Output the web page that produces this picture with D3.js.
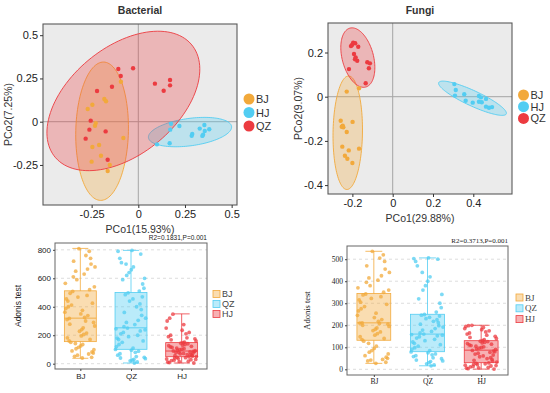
<!DOCTYPE html>
<html>
<head>
<meta charset="utf-8">
<script src="https://cdn.jsdelivr.net/npm/d3@7"></script>
<style>
  body { margin: 0; background: #fff; }
  svg { display: block; }
</style>
</head>
<body>
<svg id="chart" width="550" height="393"></svg>
<script>
const groups = ["BJ", "HJ", "QZ"];
const colors = { BJ: "#F2A93B", HJ: "#52CDF2", QZ: "#EC3B40" };
// the box plots colour their groups differently
const boxColors = { BJ: "#F2A93B", QZ: "#52CDF2", HJ: "#EC3B40" };

// PCoA scores, bacterial
const bacBJ = [[-0.093,0.231],[-0.182,0.131],[-0.173,0.118],[-0.246,0.098],[-0.271,0.073],
  [-0.228,-0.008],[-0.232,-0.023],[-0.08,-0.094],[-0.21,-0.135],[-0.246,-0.146],
  [-0.2,-0.197],[-0.25,-0.231],[-0.153,-0.25],[-0.164,-0.285]];
const bacHJ = [[0.175,-0.012],[0.22,-0.025],[0.171,-0.046],[0.329,-0.04],[0.354,-0.019],
  [0.38,-0.044],[0.356,-0.054],[0.347,-0.075],[0.343,-0.082],[0.289,-0.071],[0.286,-0.081],
  [0.1,-0.131],[0.168,-0.125]];
const bacQZ = [[-0.107,0.305],[-0.028,0.309],[-0.094,0.264],[0.089,0.22],[0.17,0.241],
  [0.17,0.21],[0.136,0.179],[-0.141,0.202],[-0.221,0.177],[-0.255,0.006],[-0.262,-0.046],
  [-0.175,-0.056],[-0.282,-0.098],[-0.164,-0.22]];
// ellipses: centre, semi axes, angle (deg)
const bacEllipses = [
  { g: "BJ", cx: -0.194, cy: -0.055, a: 0.40, b: 0.141, angle: 88.8 },
  { g: "HJ", cx: 0.277, cy: -0.060, a: 0.225, b: 0.079, angle: 8.5 },
  { g: "QZ", cx: -0.080, cy: 0.120, a: 0.49, b: 0.30, angle: 44 }
];

// PCoA scores, fungi
const funBJ = [[-0.228,0.023],[-0.167,0.038],[-0.258,-0.109],[-0.199,-0.114],[-0.248,-0.131],
  [-0.245,-0.138],[-0.253,-0.136],[-0.228,-0.16],[-0.25,-0.226],[-0.218,-0.243],
  [-0.167,-0.235],[-0.237,-0.267],[-0.225,-0.281],[-0.2,-0.3]];
const funHJ = [[0.306,0.057],[0.313,0.03],[0.309,0.005],[0.355,0.011],[0.362,-0.018],
  [0.397,-0.027],[0.428,0.003],[0.438,-0.003],[0.428,-0.023],[0.442,-0.025],
  [0.463,-0.01],[0.463,-0.045],[0.478,-0.05],[0.493,-0.047]];
const funQZ = [[-0.196,0.244],[-0.186,0.242],[-0.202,0.234],[-0.207,0.229],[-0.171,0.226],
  [-0.192,0.193],[-0.184,0.178],[-0.176,0.163],[-0.187,0.169],[-0.126,0.156],
  [-0.113,0.151],[-0.118,0.129],[-0.217,0.125],[-0.134,0.061]];
const funEllipses = [
  { g: "BJ", cx: -0.223, cy: -0.163, a: 0.257, b: 0.073, angle: 89 },
  { g: "HJ", cx: 0.396, cy: -0.007, a: 0.182, b: 0.035, angle: -22.8 },
  { g: "QZ", cx: -0.173, cy: 0.177, a: 0.139, b: 0.077, angle: -72.5 }
];

// Adonis box plots
const boxCats = ["BJ", "QZ", "HJ"];
const bacStats = [[38,155,320,512,810],[5,101,252,500,796],[5,49,89,148,350]];
const funStats = [[27,132,211,344,536],[16,80,160,250,506],[1,30,87,130,200]];
const bacBoxBJ = [40,45,52,60,68,75,82,90,98,105,115,125,135,142,150,
  160,170,182,195,205,215,228,240,252,265,278,290,300,310,318,
  325,338,350,362,375,388,400,412,425,440,455,468,480,495,508,
  520,540,565,590,610,630,650,665,680,700,720,740,760,790,808];
const bacBoxQZ = [5,12,20,25,30,35,40,45,50,60,70,80,88,95,100,
  110,120,135,150,160,170,180,190,200,210,220,230,238,245,250,
  260,275,290,305,320,340,360,380,400,420,440,455,470,485,498,
  510,530,560,590,600,620,640,660,680,700,710,740,770,790,796];
const bacBoxHJ = [5,8,10,14,18,22,25,28,30,33,36,40,42,45,48,
  50,53,56,60,63,66,70,72,75,78,80,83,85,87,89,
  92,95,98,102,106,110,114,118,122,126,130,135,140,144,147,
  152,160,168,175,182,190,200,210,220,235,250,275,300,320,348];
const funBoxBJ = [27,32,38,42,45,50,55,62,70,78,85,95,105,118,128,
  135,140,148,155,162,170,176,182,188,195,200,205,208,210,211,
  218,226,235,245,255,265,275,285,295,305,315,322,330,338,342,
  350,360,370,380,395,405,415,425,440,455,470,490,505,520,536];
const funBoxQZ = [16,20,25,30,35,38,42,48,52,58,62,66,70,75,79,
  85,92,98,105,112,118,124,130,136,142,148,152,155,158,160,
  165,172,178,185,192,198,205,212,218,225,230,236,242,246,249,
  260,280,300,320,340,360,380,400,420,440,470,490,500,503,506];
const funBoxHJ = [1,3,5,7,9,11,13,15,17,19,21,23,25,27,29,
  33,37,41,45,49,53,57,61,65,69,73,77,80,83,86,
  90,93,96,99,102,105,108,111,114,117,120,123,126,128,130,
  135,140,145,150,155,160,165,170,175,180,185,190,195,198,200];
// horizontal jitter, as a share of half the box width
const jitter = [0.12,-0.64,0.83,-0.27,0.45,-0.91,0.06,0.71,-0.48,0.33,-0.12,0.92,-0.75,0.21,-0.36,
  0.58,-0.83,0.02,0.67,-0.55,0.39,-0.18,0.88,-0.69,0.15,-0.42,0.76,-0.05,0.52,-0.94,
  0.27,-0.31,0.64,-0.78,0.09,0.81,-0.22,0.47,-0.6,0.35,-0.87,0.18,0.73,-0.44,0.03,
  -0.7,0.56,-0.15,0.9,-0.52,0.24,-0.97,0.61,-0.09,0.42,-0.66,0.85,-0.29,0.13,-0.81];

const svg = d3.select("#chart");

function pcoa(o) {
  const x = d3.scaleLinear().domain(o.xDomain).range([o.left, o.right]);
  const y = d3.scaleLinear().domain(o.yDomain).range([o.bottom, o.top]);
  const g = svg.append("g");
  const font = "Liberation Sans, Arial, sans-serif";

  g.append("rect")
    .attr("x", o.left).attr("y", o.top)
    .attr("width", o.right - o.left).attr("height", o.bottom - o.top)
    .attr("fill", "#EBEBEB");

  g.append("line").attr("x1", x(0)).attr("x2", x(0)).attr("y1", o.top).attr("y2", o.bottom)
    .attr("stroke", "#A6A6A6").attr("stroke-width", 1);
  g.append("line").attr("x1", o.left).attr("x2", o.right).attr("y1", y(0)).attr("y2", y(0))
    .attr("stroke", "#A6A6A6").attr("stroke-width", 1);

  const line = d3.line().x(d => x(d[0])).y(d => y(d[1])).curve(d3.curveLinearClosed);
  o.ellipses.forEach(e => {
    const th = e.angle * Math.PI / 180;
    const pts = d3.range(0, 360, 3).map(deg => {
      const t = deg * Math.PI / 180;
      return [e.cx + e.a * Math.cos(t) * Math.cos(th) - e.b * Math.sin(t) * Math.sin(th),
              e.cy + e.a * Math.cos(t) * Math.sin(th) + e.b * Math.sin(t) * Math.cos(th)];
    });
    g.append("path").datum(pts)
      .attr("d", line)
      .attr("fill", colors[e.g]).attr("fill-opacity", 0.3)
      .attr("stroke", colors[e.g]).attr("stroke-width", 0.9);
  });

  groups.forEach(k => {
    g.selectAll(".dot" + k)
      .data(o.points[k])
      .enter().append("circle")
      .attr("cx", d => x(d[0]))
      .attr("cy", d => y(d[1]))
      .attr("r", 2.2)
      .attr("fill", colors[k]);
  });

  g.append("rect")
    .attr("x", o.left).attr("y", o.top)
    .attr("width", o.right - o.left).attr("height", o.bottom - o.top)
    .attr("fill", "none").attr("stroke", "#595959").attr("stroke-width", 1.1);

  const xa = g.append("g").attr("transform", "translate(0," + o.bottom + ")")
    .call(d3.axisBottom(x).tickValues(o.xTicks).tickSize(3).tickPadding(2).tickFormat(d => String(d)));
  const ya = g.append("g").attr("transform", "translate(" + o.left + ",0)")
    .call(d3.axisLeft(y).tickValues(o.yTicks).tickSize(3).tickPadding(2).tickFormat(d => String(d)));
  [xa, ya].forEach(a => {
    a.select(".domain").remove();
    a.selectAll(".tick line").attr("stroke", "#333");
    a.selectAll(".tick text").attr("fill", "#222").style("font-family", font).style("font-size", o.tickSize + "px");
  });

  g.append("text").attr("x", (o.left + o.right) / 2).attr("y", 14)
    .attr("text-anchor", "middle").style("font-family", font).style("font-size", "10.5px")
    .style("font-weight", "bold").attr("fill", "#333").text(o.title);
  g.append("text").attr("x", (o.left + o.right) / 2).attr("y", o.bottom + 28)
    .attr("text-anchor", "middle").style("font-family", font).style("font-size", "10.5px")
    .attr("fill", "#333").text(o.xLabel);
  g.append("text").attr("transform", "translate(" + o.yLabelX + "," + (o.top + o.bottom) / 2 + ") rotate(-90)")
    .attr("text-anchor", "middle").style("font-family", font).style("font-size", "10.5px")
    .attr("fill", "#333").text(o.yLabel);

  groups.forEach((k, i) => {
    const cy = o.legendY + i * o.legendStep;
    g.append("circle").attr("cx", o.legendX).attr("cy", cy).attr("r", 5.5).attr("fill", colors[k]);
    g.append("text").attr("x", o.legendX + 7).attr("y", cy + 4)
      .style("font-family", font).style("font-size", "11px").attr("fill", "#333").text(k);
  });
}

function boxes(o) {
  const x = d3.scalePoint().domain(boxCats).range([o.left, o.right]).padding(0.5);
  const y = d3.scaleLinear().domain(o.yDomain).range([o.bottom, o.top]);
  const bw = x.step() * 0.63;
  const g = svg.append("g");

  g.append("rect")
    .attr("x", o.left).attr("y", o.top)
    .attr("width", o.right - o.left).attr("height", o.bottom - o.top)
    .attr("fill", "#fff");

  g.selectAll(".grid").data(o.yTicks).enter().append("line")
    .attr("x1", o.left).attr("x2", o.right)
    .attr("y1", d => y(d)).attr("y2", d => y(d))
    .attr("stroke", "#D4D4D4").attr("stroke-width", 0.8).attr("stroke-dasharray", "3,3");

  boxCats.forEach((k, gi) => {
    const s = o.stats[gi];
    const cx = x(k);
    const c = boxColors[k];
    g.append("line").attr("x1", cx).attr("x2", cx).attr("y1", y(s[4])).attr("y2", y(s[3]))
      .attr("stroke", c).attr("stroke-width", 0.8);
    g.append("line").attr("x1", cx).attr("x2", cx).attr("y1", y(s[1])).attr("y2", y(s[0]))
      .attr("stroke", c).attr("stroke-width", 0.8);
    [s[0], s[4]].forEach(v => {
      g.append("line").attr("x1", cx - bw / 4).attr("x2", cx + bw / 4).attr("y1", y(v)).attr("y2", y(v))
        .attr("stroke", c).attr("stroke-width", 0.8);
    });
    g.append("rect").attr("x", cx - bw / 2).attr("y", y(s[3]))
      .attr("width", bw).attr("height", y(s[1]) - y(s[3]))
      .attr("fill", c).attr("fill-opacity", 0.4).attr("stroke", c).attr("stroke-width", 0.8);
    g.append("line").attr("x1", cx - bw / 2).attr("x2", cx + bw / 2).attr("y1", y(s[2])).attr("y2", y(s[2]))
      .attr("stroke", c).attr("stroke-width", 0.9);

    g.selectAll(".pt" + k).data(o.values[gi]).enter().append("circle")
      .attr("cx", (d, i) => cx + jitter[(i * 7 + gi * 13) % jitter.length] * bw / 2)
      .attr("cy", d => y(d))
      .attr("r", 1.9)
      .attr("fill", c).attr("fill-opacity", 0.75);
  });

  g.append("rect")
    .attr("x", o.left).attr("y", o.top)
    .attr("width", o.right - o.left).attr("height", o.bottom - o.top)
    .attr("fill", "none").attr("stroke", "#666").attr("stroke-width", 1);

  const xa = g.append("g").attr("transform", "translate(0," + o.bottom + ")")
    .call(d3.axisBottom(x).tickSize(2).tickPadding(2));
  const ya = g.append("g").attr("transform", "translate(" + o.left + ",0)")
    .call(d3.axisLeft(y).tickValues(o.yTicks).tickSize(2).tickPadding(2).tickFormat(d3.format("d")));
  [xa, ya].forEach(a => {
    a.select(".domain").remove();
    a.selectAll(".tick line").attr("stroke", "#444");
    a.selectAll(".tick text").attr("fill", "#222").style("font-family", o.font).style("font-size", o.tickSize + "px");
  });

  g.append("text").attr("x", o.right).attr("y", o.top - 3)
    .attr("text-anchor", "end").style("font-family", o.font).style("font-size", o.noteSize + "px")
    .attr("fill", "#222").text(o.note);
  g.append("text").attr("transform", "translate(" + o.yLabelX + "," + (o.top + o.bottom) / 2 + ") rotate(-90)")
    .attr("text-anchor", "middle").style("font-family", o.font).style("font-size", "8.5px")
    .attr("fill", "#222").text("Adonis test");

  boxCats.forEach((k, i) => {
    const cy = o.legendY + i * o.legendStep;
    g.append("rect").attr("x", o.legendX).attr("y", cy - 3.5).attr("width", 7).attr("height", 7)
      .attr("fill", boxColors[k]).attr("fill-opacity", 0.4).attr("stroke", boxColors[k]).attr("stroke-width", 0.8);
    g.append("text").attr("x", o.legendX + 9).attr("y", cy + 3)
      .style("font-family", o.font).style("font-size", "9px").attr("fill", "#444").text(k);
  });
}

pcoa({
  left: 43, right: 237, top: 24, bottom: 205,
  xDomain: [-0.5105, 0.5287], yDomain: [-0.4815, 0.5647],
  xTicks: [-0.25, 0, 0.25, 0.5], yTicks: [-0.25, 0, 0.25, 0.5],
  points: { BJ: bacBJ, HJ: bacHJ, QZ: bacQZ }, ellipses: bacEllipses,
  title: "Bacterial", xLabel: "PCo1(15.93%)", yLabel: "PCo2(7.25%)", yLabelX: 12,
  tickSize: 11, legendX: 249, legendY: 99, legendStep: 13.5
});

pcoa({
  left: 328, right: 512, top: 23, bottom: 194,
  xDomain: [-0.321, 0.592], yDomain: [-0.4403, 0.3335],
  xTicks: [-0.2, 0, 0.2, 0.4], yTicks: [-0.4, -0.2, 0, 0.2],
  points: { BJ: funBJ, HJ: funHJ, QZ: funQZ }, ellipses: funEllipses,
  title: "Fungi", xLabel: "PCo1(29.88%)", yLabel: "PCo2(9.07%)", yLabelX: 302,
  tickSize: 11, legendX: 523.5, legendY: 95, legendStep: 11.7
});

boxes({
  left: 55, right: 207, top: 243, bottom: 369,
  yDomain: [-37.3, 848], yTicks: [0, 200, 400, 600, 800],
  stats: bacStats, values: [bacBoxBJ, bacBoxQZ, bacBoxHJ],
  font: "Liberation Sans, Arial, sans-serif", tickSize: 8, noteSize: 6.5,
  note: "R2=0.1831,P=0.001", yLabelX: 21,
  legendX: 213, legendY: 294, legendStep: 10
});

boxes({
  left: 347, right: 508, top: 246, bottom: 375,
  yDomain: [-25.8, 560], yTicks: [0, 100, 200, 300, 400, 500],
  stats: funStats, values: [funBoxBJ, funBoxQZ, funBoxHJ],
  font: "Liberation Serif, Times New Roman, serif", tickSize: 7.5, noteSize: 7,
  note: "R2=0.3713,P=0.001", yLabelX: 310,
  legendX: 516, legendY: 297.5, legendStep: 10.8
});
</script>
</body>
</html>
